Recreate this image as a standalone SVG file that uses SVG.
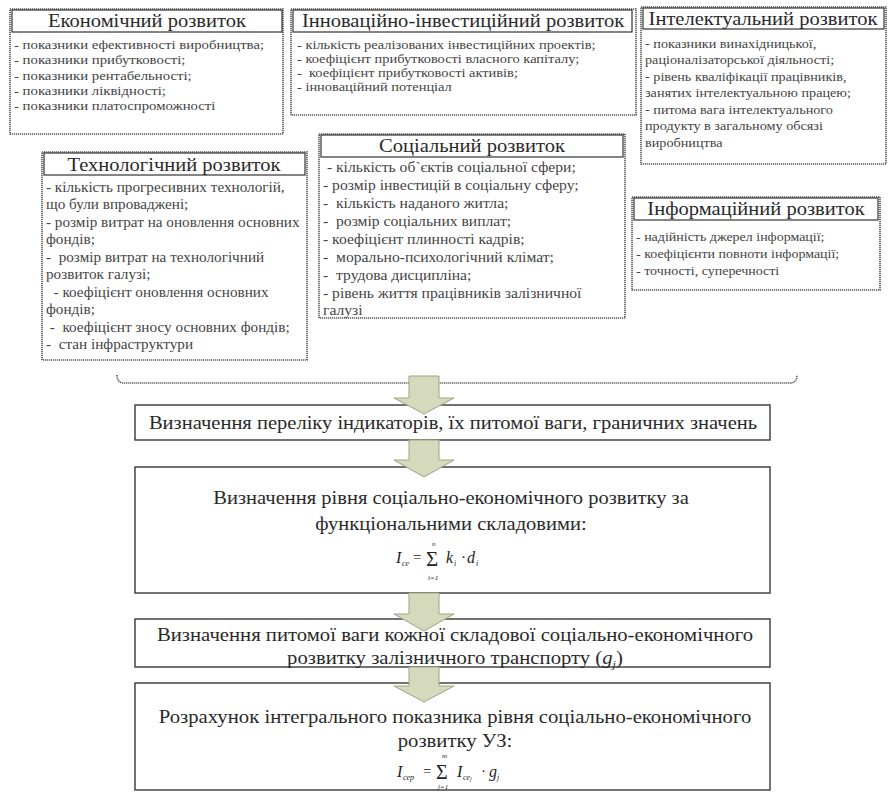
<svg xmlns="http://www.w3.org/2000/svg" width="888" height="798" viewBox="0 0 888 798" font-family="Liberation Serif, Times New Roman, serif">
<defs>
<style>
text{font-family:"Liberation Serif","Times New Roman",serif}
.outer{fill:#fff;stroke:#555;stroke-width:1.6;stroke-dasharray:1.2 0.8}
.hdr{fill:#fff;stroke:#333;stroke-width:1.2}
.ttl{font-size:18.5px;fill:#2a2a2a;text-anchor:middle}
.b1{font-size:13.3px;fill:#444}
.b2{font-size:13px;fill:#444}
.b3{font-size:12.8px;fill:#444}
.b4{font-size:13.7px;fill:#444}
.b5{font-size:14.1px;fill:#444}
.b6{font-size:12.6px;fill:#444}
.box{fill:#fff;stroke:#444;stroke-width:1.5}
.main{font-size:18.5px;fill:#2a2a2a;text-anchor:middle}
.f{font-style:italic;fill:#222}
.arrow{fill:#d5dabd;stroke:#9ea385;stroke-width:1}
.brace{fill:none;stroke:#555;stroke-width:1.6;stroke-dasharray:1.2 0.8}
</style>
</defs>

<g id="econ">
<rect class="outer" x="10" y="9" width="273" height="125"/>
<rect class="hdr" x="12" y="10" width="270" height="22"/>
<text class="ttl" transform="translate(147,27) scale(1.11,1)">Економічний розвиток</text>
<text class="b1" transform="translate(14,49) scale(1.11,1)">- показники ефективності виробництва;</text>
<text class="b1" transform="translate(14,64) scale(1.11,1)">- показники прибутковості;</text>
<text class="b1" transform="translate(14,80) scale(1.11,1)">- показники рентабельності;</text>
<text class="b1" transform="translate(14,95) scale(1.11,1)">- показники ліквідності;</text>
<text class="b1" transform="translate(14,110) scale(1.11,1)">- показники платоспроможності</text>
</g>

<g id="innov">
<rect class="outer" x="291" y="9" width="345" height="106"/>
<rect class="hdr" x="293" y="10" width="339" height="22"/>
<text class="ttl" transform="translate(463,27) scale(1.11,1)">Інноваційно-інвестиційний розвиток</text>
<text class="b2" transform="translate(297,49) scale(1.11,1)">- кількість реалізованих інвестиційних проектів;</text>
<text class="b2" transform="translate(297,63) scale(1.11,1)">- коефіцієнт прибутковості власного капіталу;</text>
<text class="b2" transform="translate(297,77) scale(1.11,1)" xml:space="preserve">-  коефіцієнт прибутковості активів;</text>
<text class="b2" transform="translate(297,91) scale(1.11,1)">- інноваційний потенціал</text>
</g>

<g id="intel">
<rect class="outer" x="641" y="7" width="245" height="157"/>
<rect class="hdr" x="643" y="8" width="241" height="21"/>
<text class="ttl" transform="translate(763,25) scale(1.11,1)">Інтелектуальний розвиток</text>
<text class="b3" transform="translate(645,48) scale(1.11,1)">- показники винахідницької,</text>
<text class="b3" transform="translate(645,64) scale(1.11,1)">раціоналізаторської діяльності;</text>
<text class="b3" transform="translate(645,81) scale(1.11,1)">- рівень кваліфікації працівників,</text>
<text class="b3" transform="translate(645,97) scale(1.11,1)">занятих інтелектуальною працею;</text>
<text class="b3" transform="translate(645,114) scale(1.11,1)">- питома вага інтелектуального</text>
<text class="b3" transform="translate(645,130) scale(1.11,1)">продукту в загальному обсязі</text>
<text class="b3" transform="translate(645,147) scale(1.11,1)">виробництва</text>
</g>

<g id="tech">
<rect class="outer" x="42" y="152" width="265" height="208"/>
<rect class="hdr" x="44" y="153" width="261" height="22"/>
<text class="ttl" transform="translate(174,171) scale(1.11,1)">Технологічний розвиток</text>
<text class="b4" transform="translate(46,192) scale(1.11,1)">- кількість прогресивних технологій,</text>
<text class="b4" transform="translate(46,209) scale(1.11,1)">що були впроваджені;</text>
<text class="b4" transform="translate(46,227) scale(1.11,1)">- розмір витрат на оновлення основних</text>
<text class="b4" transform="translate(46,244) scale(1.11,1)">фондів;</text>
<text class="b4" transform="translate(46,262) scale(1.11,1)" xml:space="preserve">-  розмір витрат на технологічний</text>
<text class="b4" transform="translate(46,279) scale(1.11,1)">розвиток галузі;</text>
<text class="b4" transform="translate(46,297) scale(1.11,1)" xml:space="preserve">  - коефіцієнт оновлення основних</text>
<text class="b4" transform="translate(46,314) scale(1.11,1)">фондів;</text>
<text class="b4" transform="translate(46,332) scale(1.11,1)" xml:space="preserve"> -  коефіцієнт зносу основних фондів;</text>
<text class="b4" transform="translate(46,349) scale(1.11,1)" xml:space="preserve">-  стан інфраструктури</text>
</g>

<g id="social">
<rect class="outer" x="319" y="134" width="306" height="184"/>
<rect class="hdr" x="321" y="135" width="302" height="22"/>
<text class="ttl" transform="translate(472,152) scale(1.11,1)">Соціальний розвиток</text>
<text class="b5" transform="translate(323,172) scale(1.11,1)" xml:space="preserve"> - кількість об`єктів соціальної сфери;</text>
<text class="b5" transform="translate(323,190) scale(1.11,1)">- розмір інвестицій в соціальну сферу;</text>
<text class="b5" transform="translate(323,208) scale(1.11,1)" xml:space="preserve">-  кількість наданого житла;</text>
<text class="b5" transform="translate(323,226) scale(1.11,1)" xml:space="preserve">-  розмір соціальних виплат;</text>
<text class="b5" transform="translate(323,244) scale(1.11,1)">- коефіцієнт плинності кадрів;</text>
<text class="b5" transform="translate(323,262) scale(1.11,1)" xml:space="preserve">-  морально-психологічний клімат;</text>
<text class="b5" transform="translate(323,280) scale(1.11,1)" xml:space="preserve">-  трудова дисципліна;</text>
<text class="b5" transform="translate(323,298) scale(1.11,1)">- рівень життя працівників залізничної</text>
<text class="b5" transform="translate(323,315) scale(1.11,1)">галузі</text>
</g>

<g id="info">
<rect class="outer" x="632" y="197" width="248" height="93"/>
<rect class="hdr" x="634" y="198" width="244" height="22"/>
<text class="ttl" transform="translate(756,215) scale(1.11,1)">Інформаційний розвиток</text>
<text class="b6" transform="translate(636,241) scale(1.11,1)">- надійність джерел інформації;</text>
<text class="b6" transform="translate(636,258) scale(1.11,1)">- коефіцієнти повноти інформації;</text>
<text class="b6" transform="translate(636,275) scale(1.11,1)">- точності, суперечності</text>
</g>

<g id="step1">
<rect class="box" x="135" y="405" width="635" height="35"/>
<text class="main" transform="translate(453,429) scale(1.11,1)">Визначення переліку індикаторів, їх питомої ваги, граничних значень</text>
</g>

<g id="step2">
<rect class="box" x="135" y="467" width="635" height="126"/>
<text class="main" transform="translate(451,504) scale(1.11,1)">Визначення рівня соціально-економічного розвитку за</text>
<text class="main" transform="translate(451,530) scale(1.11,1)">функціональними складовими:</text>
<g class="f">
<text x="396" y="563" font-size="16">I</text>
<text x="402" y="566" font-size="8">се</text>
<text x="413" y="562" font-size="15" font-style="normal">=</text>
<text x="426" y="566" font-size="21" font-style="normal">Σ</text>
<text x="432" y="546" font-size="7">n</text>
<text x="428" y="580" font-size="7">i=1</text>
<text x="446" y="563" font-size="16">k</text>
<text x="454" y="566" font-size="8">i</text>
<text x="461" y="562" font-size="15" font-style="normal">·</text>
<text x="467" y="563" font-size="16">d</text>
<text x="476" y="566" font-size="8">i</text>
</g>
</g>

<g id="step3">
<rect class="box" x="135" y="619" width="635" height="48"/>
<text class="main" transform="translate(455,641) scale(1.12,1)">Визначення питомої ваги кожної складової соціально-економічного</text>
<text class="main" transform="translate(455,664) scale(1.12,1)">розвитку залізничного транспорту (<tspan font-style="italic">g</tspan><tspan font-style="italic" font-size="11" dy="4">j</tspan><tspan dy="-4">)</tspan></text>
</g>

<g id="step4">
<rect class="box" x="135" y="683" width="635" height="107"/>
<text class="main" transform="translate(455,723) scale(1.12,1)">Розрахунок інтегрального показника рівня соціально-економічного</text>
<text class="main" transform="translate(455,747) scale(1.12,1)">розвитку УЗ:</text>
<g class="f">
<text x="397" y="777" font-size="16">I</text>
<text x="403" y="780" font-size="8">сер</text>
<text x="423" y="776" font-size="15" font-style="normal">=</text>
<text x="436" y="779" font-size="20" font-style="normal">Σ</text>
<text x="442" y="758" font-size="7">m</text>
<text x="438" y="789" font-size="7">j=1</text>
<text x="457" y="777" font-size="16">I</text>
<text x="463" y="780" font-size="8">се<tspan font-size="6" dy="1">j</tspan></text>
<text x="481" y="776" font-size="15" font-style="normal">·</text>
<text x="489" y="777" font-size="16">g</text>
<text x="497" y="780" font-size="8">j</text>
</g>
</g>

<g id="connectors">
<path class="brace" d="M117,375 Q117,383 124,383 L790,383 Q797,383 797,375"/>
<path class="arrow" d="M409,376 L439,376 L439,398 L454,398 L424,414 L394,398 L409,398 Z"/>
<path class="arrow" d="M409,440 L439,440 L439,460 L454,460 L424,477 L394,460 L409,460 Z"/>
<path class="arrow" d="M409,593 L439,593 L439,614 L454,614 L424,631 L394,614 L409,614 Z"/>
<path class="arrow" d="M409,667 L439,667 L439,686 L454,686 L424,702 L394,686 L409,686 Z"/>
</g>
</svg>
